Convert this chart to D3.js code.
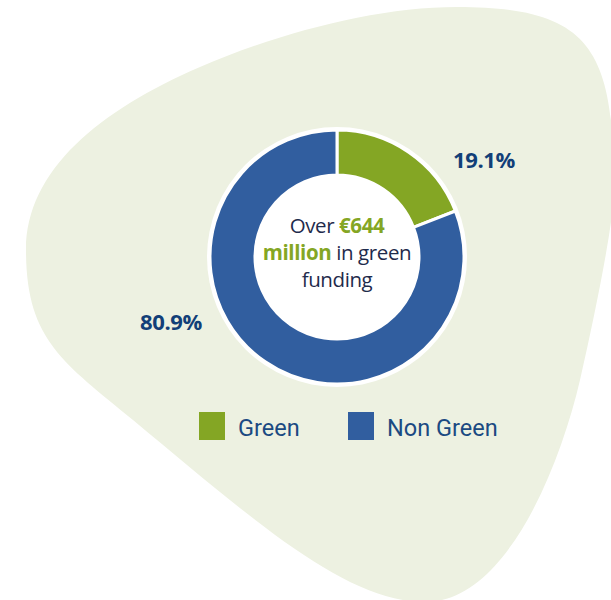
<!DOCTYPE html>
<html>
<head>
<meta charset="utf-8">
<script src="https://cdn.jsdelivr.net/npm/d3@7/dist/d3.min.js"></script>
<style>
  html, body { margin: 0; padding: 0; background: #ffffff; }
  svg { display: block; }
</style>
</head>
<body>
<svg id="chart" width="611" height="600"></svg>
<script>
// Funding split
const categories = ["Green", "Non Green"];
const shares = [19.1, 80.9];
const shareLabels = ["19.1%", "80.9%"];
const palette = ["#84A624", "#315E9F"];

// Soft rounded backdrop shape: start point, then cubic segments [c1, c2, end]
const backdropStart = [457, 7];
const backdropCurves = [
  [[592, 7], [614, 50], [614, 190]],
  [[614, 220], [596, 310], [580, 380]],
  [[559, 470], [505, 602], [425, 602]],
  [[345, 602], [253, 519.6], [133, 420]],
  [[63, 362], [26, 340], [26, 250]],
  [[26, 170], [100, 110], [200, 67]],
  [[280, 32.6], [377, 7], [457, 7]]
];

const svg = d3.select("#chart");

// backdrop
const bp = d3.path();
bp.moveTo(...backdropStart);
backdropCurves.forEach(([a, b, c]) => bp.bezierCurveTo(a[0], a[1], b[0], b[1], c[0], c[1]));
bp.closePath();
svg.append("path").attr("d", bp.toString()).attr("fill", "#EDF1E1");

const cx = 337, cy = 257;
const outerR = 127, innerR = 82;

const g = svg.append("g").attr("transform", `translate(${cx},${cy})`);

// white disc: ring outline and donut hole
g.append("circle").attr("r", outerR + 3).attr("fill", "#ffffff");

const pie = d3.pie().sort(null).value(d => d.value);
const arcs = pie(categories.map((c, i) => ({ name: c, value: shares[i], label: shareLabels[i], color: palette[i] })));
const arc = d3.arc().innerRadius(innerR).outerRadius(outerR);

g.selectAll("path.slice")
  .data(arcs)
  .join("path")
  .attr("class", "slice")
  .attr("d", arc)
  .attr("fill", d => d.data.color)
  .attr("stroke", "#ffffff")
  .attr("stroke-width", 3)
  .attr("stroke-linejoin", "miter");

// percentage labels outside the ring
const labelPos = [[147, -89], [-166, 73]];
g.selectAll("text.pct")
  .data(arcs)
  .join("text")
  .attr("class", "pct")
  .attr("x", (d, i) => labelPos[i][0])
  .attr("y", (d, i) => labelPos[i][1])
  .attr("text-anchor", "middle")
  .attr("font-family", "'Open Sans', sans-serif")
  .attr("font-weight", 700)
  .attr("font-size", 22)
  .attr("letter-spacing", -0.4)
  .attr("fill", "#123F78")
  .text(d => d.data.label);

// centre caption
const cap = g.append("text")
  .attr("text-anchor", "middle")
  .attr("font-family", "'Open Sans', sans-serif")
  .attr("font-size", 20.5)
  .attr("letter-spacing", -0.4)
  .attr("fill", "#1F2B4C");
const l1 = cap.append("tspan").attr("x", 0).attr("y", -24);
l1.append("tspan").text("Over ");
l1.append("tspan").attr("font-weight", 700).attr("fill", "#84A624").text("€644");
const l2 = cap.append("tspan").attr("x", 0).attr("y", 3);
l2.append("tspan").attr("font-weight", 700).attr("fill", "#84A624").text("million");
l2.append("tspan").text(" in green");
cap.append("tspan").attr("x", 0).attr("y", 30).text("funding");

// legend
const legendX = [199, 348];
const legend = svg.append("g");
const items = legend.selectAll("g.item")
  .data(categories)
  .join("g")
  .attr("class", "item")
  .attr("transform", (d, i) => `translate(${legendX[i]},412)`);
items.append("rect")
  .attr("width", 26).attr("height", 28)
  .attr("fill", (d, i) => palette[i]);
items.append("text")
  .attr("x", 39).attr("y", 24)
  .attr("font-family", "Roboto, sans-serif")
  .attr("font-size", 23.5)
  .attr("fill", "#1B4A82")
  .text(d => d);
</script>
</body>
</html>
